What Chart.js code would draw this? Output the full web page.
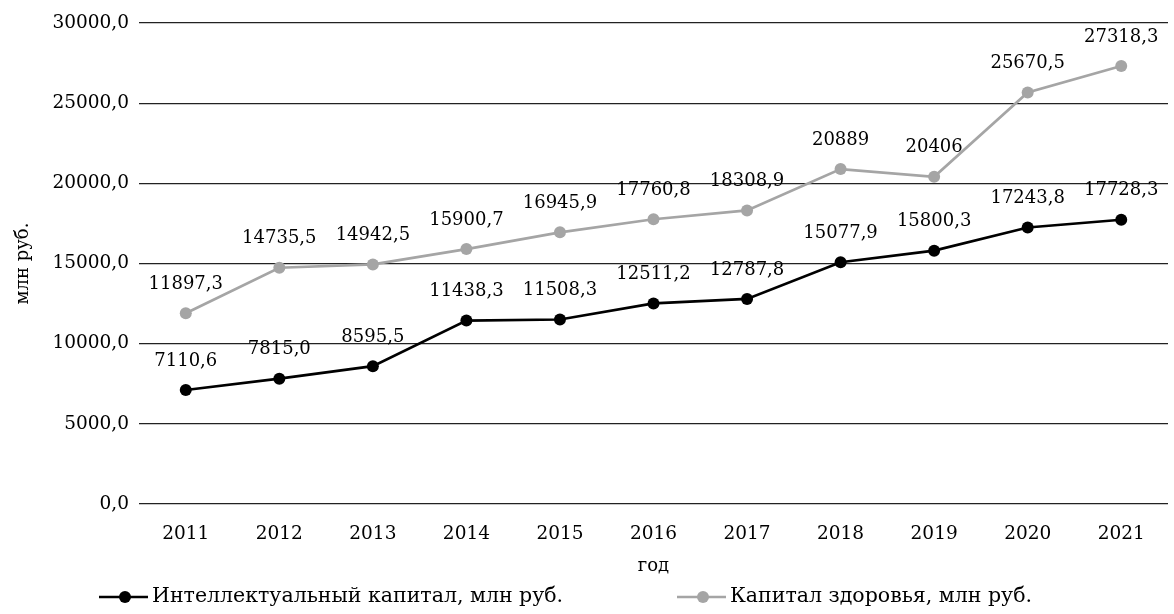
<!DOCTYPE html>
<html>
<head>
<meta charset="utf-8">
<script src="https://cdn.jsdelivr.net/npm/chart.js@4/dist/chart.umd.min.js"></script>
<style>
  html, body { margin: 0; padding: 0; background: #fff; }
  #wrap { width: 1174px; height: 614px; }
</style>
</head>
<body>
<div id="wrap"><canvas id="myChart"></canvas></div>
<script>
// Chart data
const years = ['2011', '2012', '2013', '2014', '2015', '2016', '2017', '2018', '2019', '2020', '2021'];
const intellectValues = [7110.6, 7815.0, 8595.5, 11438.3, 11508.3, 12511.2, 12787.8, 15077.9, 15800.3, 17243.8, 17728.3];
const healthValues = [11897.3, 14735.5, 14942.5, 15900.7, 16945.9, 17760.8, 18308.9, 20889, 20406, 25670.5, 27318.3];
const intellectLabels = ['7110,6', '7815,0', '8595,5', '11438,3', '11508,3', '12511,2', '12787,8', '15077,9', '15800,3', '17243,8', '17728,3'];
const healthLabels = ['11897,3', '14735,5', '14942,5', '15900,7', '16945,9', '17760,8', '18308,9', '20889', '20406', '25670,5', '27318,3'];
const seriesNames = ['Интеллектуальный капитал, млн руб.', 'Капитал здоровья, млн руб.'];

const FONT = "'DejaVu Serif', serif";
const BLACK = '#000000';
const GREY = '#a5a5a5';

// Value labels above every point
const valueLabels = {
  id: 'valueLabels',
  afterDatasetsDraw(chart) {
    const ctx = chart.ctx;
    ctx.save();
    ctx.font = '18px ' + FONT;
    ctx.fillStyle = '#000';
    ctx.textAlign = 'center';
    ctx.textBaseline = 'middle';
    chart.data.datasets.forEach((ds, i) => {
      const meta = chart.getDatasetMeta(i);
      meta.data.forEach((pt, j) => {
        ctx.fillText(ds.valueText[j], pt.x, pt.y - 29);
      });
    });
    ctx.restore();
  }
};

// Legend under the chart: line with a dot, then the series name
const bottomLegend = {
  id: 'bottomLegend',
  afterDraw(chart) {
    const ctx = chart.ctx;
    const slots = [99, 677];
    const y = 597;
    ctx.save();
    chart.data.datasets.forEach((ds, i) => {
      const x = slots[i];
      ctx.strokeStyle = ds.borderColor;
      ctx.lineWidth = 2.7;
      ctx.beginPath();
      ctx.moveTo(x, y);
      ctx.lineTo(x + 49, y);
      ctx.stroke();
      ctx.fillStyle = ds.borderColor;
      ctx.beginPath();
      ctx.arc(x + 26, y, 6, 0, Math.PI * 2);
      ctx.fill();
      ctx.fillStyle = '#000';
      ctx.font = '20.5px ' + FONT;
      ctx.textAlign = 'left';
      ctx.textBaseline = 'middle';
      ctx.fillText(ds.label, x + 53, y);
    });
    ctx.restore();
  }
};

const ctx = document.getElementById('myChart').getContext('2d');

new Chart(ctx, {
  type: 'line',
  data: {
    labels: years,
    datasets: [
      {
        label: seriesNames[0],
        data: intellectValues,
        valueText: intellectLabels,
        borderColor: BLACK,
        backgroundColor: BLACK,
        borderWidth: 2.7,
        pointRadius: 6,
        pointBackgroundColor: BLACK,
        pointBorderWidth: 0,
        tension: 0
      },
      {
        label: seriesNames[1],
        data: healthValues,
        valueText: healthLabels,
        borderColor: GREY,
        backgroundColor: GREY,
        borderWidth: 2.7,
        pointRadius: 6,
        pointBackgroundColor: GREY,
        pointBorderWidth: 0,
        tension: 0
      }
    ]
  },
  options: {
    responsive: true,
    maintainAspectRatio: false,
    animation: false,
    events: [],
    layout: {
      padding: { top: 23, right: 2, bottom: 0, left: 0 }
    },
    plugins: {
      legend: { display: false },
      tooltip: { enabled: false }
    },
    scales: {
      x: {
        offset: true,
        grid: { display: false },
        border: { display: false },
        ticks: {
          color: '#000',
          font: { family: FONT, size: 18.5 },
          padding: 11,
          maxRotation: 0
        },
        title: {
          display: true,
          text: 'год',
          color: '#000',
          font: { family: FONT, size: 18 },
          padding: { top: 0, bottom: 37 }
        },
        afterFit(scale) {
          scale.height = 110;
        }
      },
      y: {
        min: 0,
        max: 30000,
        grid: { color: '#222', lineWidth: 1.3, drawTicks: false },
        border: { display: false },
        ticks: {
          stepSize: 5000,
          color: '#000',
          font: { family: FONT, size: 18.5 },
          padding: 10,
          callback: (v) => v.toFixed(1).replace('.', ',')
        },
        title: {
          display: true,
          text: 'млн руб.',
          color: '#000',
          font: { family: FONT, size: 18 },
          padding: { top: 13, bottom: 0 }
        },
        afterFit(scale) {
          scale.width = 139;
        }
      }
    }
  },
  plugins: [valueLabels, bottomLegend]
});
</script>
</body>
</html>
